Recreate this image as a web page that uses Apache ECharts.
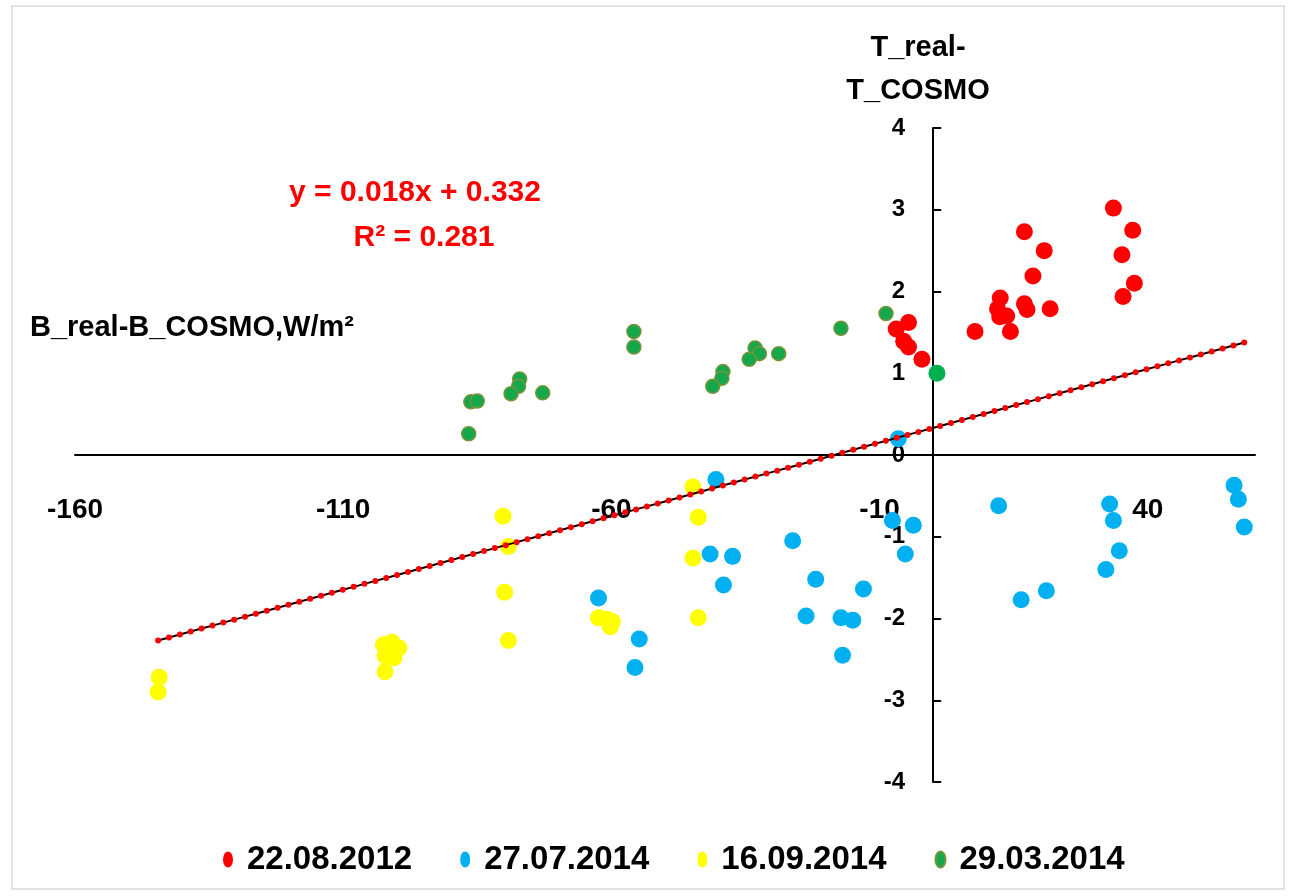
<!DOCTYPE html>
<html>
<head>
<meta charset="utf-8">
<script src="https://cdn.jsdelivr.net/npm/echarts@6/dist/echarts.min.js"></script>
<style>
  html, body { margin: 0; padding: 0; background: #fff; }
  #chart { width: 1290px; height: 896px; }
</style>
</head>
<body>
<div id="chart"></div>
<script>
// Axis tick labels
const xTickLabels = [-160, -110, -60, -10, 40];
const yTickLabels = [-4, -3, -2, -1, 0, 1, 2, 3, 4];

// Series names (dates of observation)
const seriesNames = ['22.08.2012', '27.07.2014', '16.09.2014', '29.03.2014'];

// [B_real - B_COSMO, T_real - T_COSMO]
const points20120822 = [
  [-6.9, 1.54], [-4.6, 1.62], [-5.5, 1.39], [-4.6, 1.32], [-2.1, 1.17],
  [7.8, 1.51], [12.5, 1.92], [12.0, 1.79], [12.4, 1.69], [13.7, 1.70],
  [14.4, 1.51], [17.0, 2.73], [17.0, 1.85], [17.5, 1.78], [18.6, 2.19],
  [20.7, 2.50], [21.8, 1.79], [33.6, 3.02], [35.2, 2.45], [37.2, 2.75],
  [35.4, 1.94], [37.5, 2.10]
];
const points20140727 = [
  [-40.5, -0.30], [-41.6, -1.21], [-37.4, -1.24], [-39.1, -1.59], [-26.2, -1.05],
  [-21.9, -1.52], [-13.0, -1.64], [-23.7, -1.97], [-17.2, -1.99], [-15.0, -2.02],
  [-16.9, -2.45], [-62.4, -1.75], [-54.8, -2.25], [-55.6, -2.60], [-6.5, 0.20],
  [-7.6, -0.80], [-3.7, -0.86], [-5.2, -1.21], [12.2, -0.62], [16.4, -1.77],
  [21.1, -1.66], [32.9, -0.60], [33.6, -0.80], [34.7, -1.17], [32.2, -1.40],
  [56.1, -0.37], [56.9, -0.54], [58.0, -0.88]
];
const points20140916 = [
  [-144.3, -2.72], [-144.5, -2.90], [-102.5, -2.32], [-100.9, -2.29], [-99.6, -2.36],
  [-102.2, -2.46], [-100.5, -2.48], [-102.2, -2.65], [-80.2, -0.75], [-79.2, -1.12],
  [-79.9, -1.68], [-79.2, -2.27], [-62.4, -1.99], [-60.8, -2.01], [-59.8, -2.04],
  [-60.2, -2.10], [-44.8, -0.39], [-43.8, -0.76], [-44.8, -1.26], [-43.8, -1.99]
];
const points20140329 = [
  [-86.2, 0.65], [-85.0, 0.66], [-86.6, 0.26], [-77.1, 0.93], [-77.3, 0.84],
  [-78.7, 0.75], [-72.8, 0.76], [-55.8, 1.51], [-55.8, 1.32], [-39.2, 1.02],
  [-39.4, 0.94], [-41.1, 0.84], [-33.2, 1.31], [-32.4, 1.24], [-34.3, 1.17],
  [-28.8, 1.24], [-17.2, 1.55], [-8.8, 1.73]
];
// single larger marker of the 29.03.2014 set
const point20140329Big = [0.7, 1.0];

// Linear fit over all points, as printed on the chart
const trendSlope = 0.018;
const trendIntercept = 0.332;
const trendSteps = 100;

const allPoints = points20120822.concat(points20140727, points20140916, points20140329, [point20140329Big]);
const xs = allPoints.map(p => p[0]);
const xMin = Math.min(...xs), xMax = Math.max(...xs);
const trendPoints = [];
for (let i = 0; i <= trendSteps; i++) {
  const x = xMin + (xMax - xMin) * i / trendSteps;
  trendPoints.push([x, trendSlope * x + trendIntercept]);
}
const fmt = v => v.toFixed(3);
const trendLabel = 'y = ' + fmt(trendSlope) + 'x + ' + fmt(trendIntercept);
const r2Label = 'R² = 0.281';

const FONT = '"Liberation Sans", Arial, sans-serif';
const ellipseIcon = 'path://M50,0A50,50 0 1,1 50,100A50,50 0 1,1 50,0Z';

// Plot area; both axes cross at the origin, so their labels are pulled
// in from the grid edges to sit next to the axis lines.
const GRID = { left: 75, right: 35, top: 128, bottom: 114 };
const CHART_W = 1290, CHART_H = 896;
const yAxisX = 933;   // x=0 inside the plot
const xAxisY = 455;   // y=0 inside the plot

const chart = echarts.init(document.getElementById('chart'));
chart.setOption({
  animation: false,
  backgroundColor: '#fff',
  grid: Object.assign({ containLabel: false }, GRID),
  xAxis: {
    type: 'value', min: -160, max: 60, interval: 50,
    axisLine: { onZero: true, lineStyle: { color: '#000', width: 2 } },
    axisTick: { show: false },
    splitLine: { show: false },
    axisLabel: {
      customValues: xTickLabels,
      margin: (xAxisY + 41) - (CHART_H - GRID.bottom),
      color: '#000', fontSize: 28, fontWeight: 'bold', fontFamily: FONT
    }
  },
  yAxis: {
    type: 'value', min: -4, max: 4, interval: 1,
    axisLine: { onZero: true, lineStyle: { color: '#000', width: 2 } },
    axisTick: { show: true, inside: true, length: 8, lineStyle: { color: '#000', width: 2 } },
    splitLine: { show: false },
    axisLabel: {
      customValues: yTickLabels,
      margin: GRID.left - (yAxisX - 28),
      color: '#000', fontSize: 24, fontWeight: 'bold', fontFamily: FONT
    }
  },
  legend: {
    left: 218, top: 838,
    itemWidth: 10, itemHeight: 16, itemGap: 48,
    symbolKeepAspect: false,
    textStyle: { color: '#000', fontSize: 33, fontWeight: 'bold', fontFamily: FONT, padding: [0, 0, 0, 9] },
    data: seriesNames.map(n => ({ name: n, icon: ellipseIcon }))
  },
  graphic: [
    { type: 'rect', shape: { x: 12, y: 6, width: 1272, height: 883 }, style: { fill: 'none', stroke: '#d9d9d9', lineWidth: 1.5 }, silent: true },
    { type: 'text', x: 918, y: 48, style: { text: 'T_real-', font: 'bold 29px ' + FONT, fill: '#000', textAlign: 'center', textVerticalAlign: 'middle' } },
    { type: 'text', x: 918, y: 91, style: { text: 'T_COSMO', font: 'bold 29px ' + FONT, fill: '#000', textAlign: 'center', textVerticalAlign: 'middle' } },
    { type: 'text', x: 30, y: 328, style: { text: 'B_real-B_COSMO,W/m²', font: 'bold 29px ' + FONT, fill: '#000', textAlign: 'left', textVerticalAlign: 'middle' } },
    { type: 'text', x: 415, y: 193, style: { text: trendLabel, font: 'bold 30px ' + FONT, fill: '#ff0000', textAlign: 'center', textVerticalAlign: 'middle' } },
    { type: 'text', x: 424, y: 238, style: { text: r2Label, font: 'bold 30px ' + FONT, fill: '#ff0000', textAlign: 'center', textVerticalAlign: 'middle' } }
  ],
  series: [
    { name: seriesNames[0], type: 'scatter', data: points20120822, symbolSize: 17, itemStyle: { color: '#ff0000', opacity: 1 }, z: 2 },
    { name: seriesNames[1], type: 'scatter', data: points20140727, symbolSize: 17, itemStyle: { color: '#00b0f0', opacity: 1 }, z: 2 },
    { name: seriesNames[2], type: 'scatter', data: points20140916, symbolSize: 17, itemStyle: { color: '#ffff00', opacity: 1 }, z: 2 },
    {
      name: seriesNames[3], type: 'scatter', symbolSize: 14,
      itemStyle: { color: '#14a84b', borderColor: '#77933c', borderWidth: 1.5, opacity: 1 },
      data: points20140329.concat([{ value: point20140329Big, symbolSize: 17, itemStyle: { color: '#00b050', borderWidth: 0 } }]),
      z: 3
    },
    {
      name: 'trend', type: 'line', data: trendPoints, showSymbol: true, symbol: 'circle', symbolSize: 6,
      lineStyle: { color: '#000', width: 2 },
      itemStyle: { color: '#ff0000', borderWidth: 0 },
      z: 4, silent: true
    }
  ]
});
</script>
</body>
</html>
